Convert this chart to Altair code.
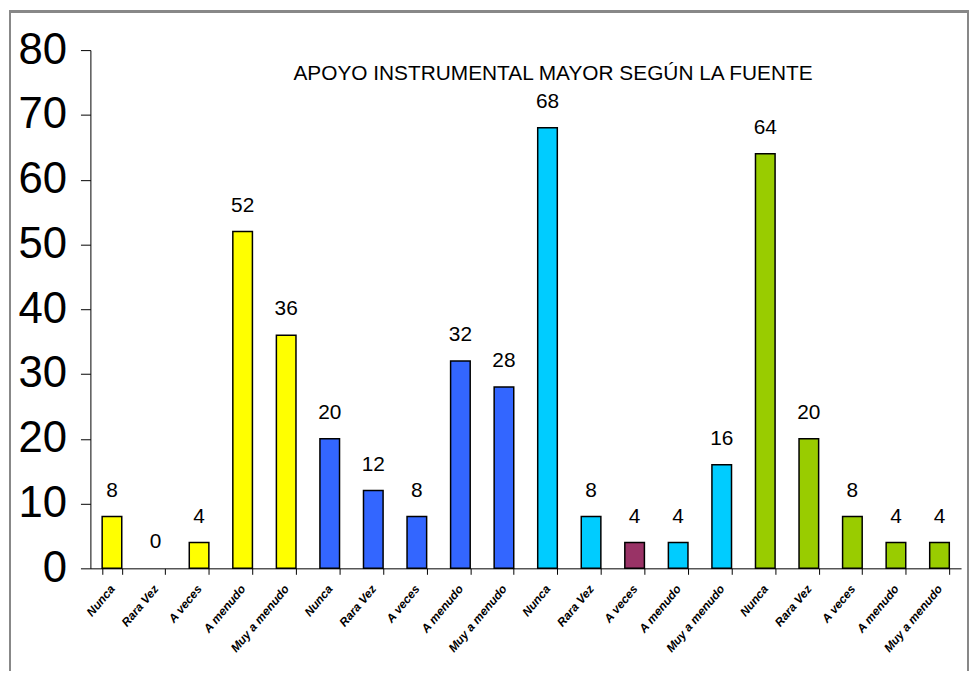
import altair as alt
import pandas as pd

etiquetas = ["Nunca", "Rara Vez", "A veces", "A menudo", "Muy a menudo"] * 4
valores = [8, 0, 4, 52, 36, 20, 12, 8, 32, 28, 68, 8, 4, 4, 16, 64, 20, 8, 4, 4]
grupos = ["A"] * 5 + ["B"] * 5 + ["C", "C", "D", "C", "C"] + ["E"] * 5
grupo_dom = ["A", "B", "C", "D", "E"]
grupo_col = ["#FFFF00", "#3366FF", "#00CCFF", "#993366", "#99CC00"]
yticks = [0, 10, 20, 30, 40, 50, 60, 70, 80]
titulo = "APOYO INSTRUMENTAL MAYOR SEGÚN LA FUENTE"

df = pd.DataFrame({"idx": list(range(len(valores))), "valor": valores, "grupo": grupos})

label_arr = "[" + ",".join("'%s'" % s for s in etiquetas) + "]"
FONT = "Liberation Sans, Arial"

x = alt.X("idx:O", title=None,
          scale=alt.Scale(paddingInner=0.55, paddingOuter=0.27),
          axis=alt.Axis(labelExpr=label_arr + "[datum.value]", labelAngle=-50,
                        labelFont=FONT, labelFontSize=12, labelFontWeight="bold",
                        labelFontStyle="italic", labelColor="#000", tickBand="extent",
                        tickColor="#000", domainColor="#000", tickSize=6, labelPadding=12))
y = alt.Y("valor:Q", title=None,
          scale=alt.Scale(domain=[0, 80], nice=False),
          axis=alt.Axis(values=yticks, grid=False, labelFont=FONT, labelFontSize=44,
                        labelColor="#000", tickColor="#000", domainColor="#000",
                        tickSize=10, labelPadding=14))

bars = alt.Chart(df).mark_bar(stroke="#000", strokeWidth=1.5).encode(
    x=x, y=y,
    color=alt.Color("grupo:N", scale=alt.Scale(domain=grupo_dom, range=grupo_col), legend=None),
    strokeOpacity=alt.condition("datum.valor == 0", alt.value(0), alt.value(1)),
)
text = alt.Chart(df).mark_text(baseline="bottom", dy=-16, font=FONT, fontSize=21, color="#000").encode(
    x="idx:O", y="valor:Q", text="valor:Q")

frame = alt.Chart(df).mark_rect(fill=None, stroke="#888", strokeWidth=1.5).encode(
    x=alt.value(-81), x2=alt.value(884), y=alt.value(-39), y2=alt.value(640))

title_mark = alt.Chart(pd.DataFrame({"t": [titulo]})).mark_text(
    font=FONT, fontSize=21, color="#000", baseline="middle", align="center").encode(
    text="t:N", x=alt.value(466), y=alt.value(24))

chart = alt.layer(frame, bars, text, title_mark).properties(
    width=877, height=522,
    autosize=alt.AutoSizeParams(type="none"),
    padding={"left": 83, "top": 40, "right": 8, "bottom": 101},
).configure_view(strokeWidth=0)

chart.save("out.html", embed_options={"renderer": "svg", "actions": False})
